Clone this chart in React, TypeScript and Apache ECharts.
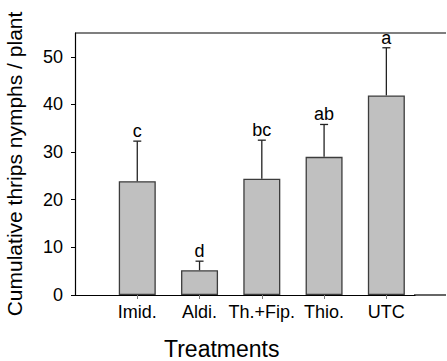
import React, { useEffect, useRef } from "react";
import * as echarts from "echarts";

const treatments = ["Imid.", "Aldi.", "Th.+Fip.", "Thio.", "UTC"];
const positions = [1, 2, 3, 4, 5];
const means = [23.9, 5.2, 24.4, 29.0, 41.9];
const errorTops = [32.3, 7.1, 32.5, 35.8, 51.9];
const letters = ["c", "d", "bc", "ab", "a"];
const yTicks = [0, 10, 20, 30, 40, 50];

const FONT = "'Liberation Sans', Arial, Helvetica, sans-serif";

export default function App() {
  const ref = useRef<HTMLDivElement>(null);
  useEffect(() => {
    if (!ref.current) return;
    const chart = echarts.init(ref.current, null, { renderer: "svg" });
    const barData = positions.map((p, i) => [p, means[i]]);
    const errData = positions.map((p, i) => [p, means[i], errorTops[i], i]);
    chart.setOption({
      animation: false,
      backgroundColor: "#ffffff",
      grid: {
        left: 75,
        top: 33,
        width: 340,
        height: 262,
        containLabel: false,
        outerBoundsMode: "none",
      },
      xAxis: {
        type: "value",
        min: 0,
        max: 5.46,
        interval: 1,
        axisLine: { show: true, lineStyle: { color: "#000", width: 1.2 } },
        axisTick: {
          show: true,
          length: 4,
          customValues: positions,
          lineStyle: { color: "#777", width: 1 },
        },
        axisLabel: {
          color: "#000",
          fontSize: 18,
          fontFamily: FONT,
          margin: 8,
          customValues: positions,
          formatter: (v: number) => treatments[Math.round(v) - 1] ?? "",
        },
        splitLine: { show: false },
      },
      yAxis: {
        type: "value",
        min: 0,
        max: 55,
        interval: 10,
        name: "Cumulative thrips nymphs / plant",
        nameLocation: "middle",
        nameGap: 50,
        nameTextStyle: { color: "#000", fontSize: 21, fontFamily: FONT },
        axisLine: { show: true, lineStyle: { color: "#000", width: 1.2 } },
        axisTick: {
          show: true,
          length: 4,
          customValues: yTicks,
          lineStyle: { color: "#000", width: 1 },
        },
        axisLabel: {
          color: "#000",
          fontSize: 18,
          fontFamily: FONT,
          margin: 12,
          customValues: yTicks,
        },
        splitLine: { show: false },
      },
      graphic: [
        {
          type: "line",
          shape: { x1: 75, y1: 33, x2: 446, y2: 33 },
          style: { stroke: "#000", lineWidth: 1.2 },
        },
        {
          type: "line",
          shape: { x1: 414, y1: 295, x2: 446, y2: 295 },
          style: { stroke: "#000", lineWidth: 1.2 },
        },
        {
          type: "text",
          left: 164,
          top: 337,
          style: {
            text: "Treatments",
            fontSize: 23,
            fontFamily: FONT,
            fill: "#000",
          },
        },
      ],
      series: [
        {
          type: "bar",
          data: barData,
          barWidth: 37,
          itemStyle: { color: "#c0c0c0", borderColor: "#3c3c3c", borderWidth: 1.3 },
          z: 2,
        },
        {
          type: "custom",
          data: errData,
          z: 3,
          renderItem: (params: any, api: any) => {
            const x = api.value(0);
            const i = api.value(3);
            const low = api.coord([x, api.value(1)]);
            const high = api.coord([x, api.value(2)]);
            const half = 4;
            return {
              type: "group",
              children: [
                {
                  type: "line",
                  shape: { x1: low[0], y1: low[1], x2: high[0], y2: high[1] },
                  style: { stroke: "#222", lineWidth: 1.3 },
                },
                {
                  type: "line",
                  shape: { x1: high[0] - half, y1: high[1], x2: high[0] + half, y2: high[1] },
                  style: { stroke: "#222", lineWidth: 1.3 },
                },
                {
                  type: "text",
                  x: high[0],
                  y: high[1] - 1,
                  style: {
                    text: letters[i],
                    fontSize: 18,
                    fontFamily: FONT,
                    fill: "#000",
                    align: "center",
                    verticalAlign: "bottom",
                  },
                },
              ],
            };
          },
        },
      ],
    });
    return () => chart.dispose();
  }, []);
  return (
    <div
      ref={ref}
      style={{ position: "absolute", left: 0, top: 0, width: 447, height: 361 }}
    />
  );
}
